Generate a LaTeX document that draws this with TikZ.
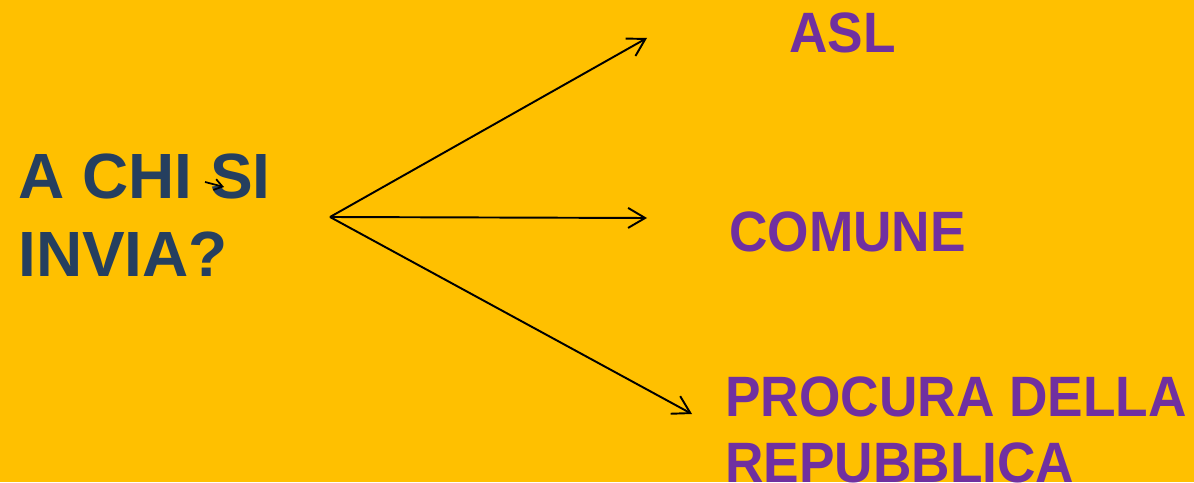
\documentclass[tikz,border=0pt]{standalone}
\usepackage{fontspec}
\setmainfont{Liberation Sans}
\usepackage{xcolor}
\usetikzlibrary{arrows.meta}
\definecolor{bgorange}{HTML}{FFC000}
\definecolor{askblue}{HTML}{253F5F}
\definecolor{destpurple}{HTML}{7030A0}

\begin{document}
\begin{tikzpicture}[
  ask/.style={anchor=base west,inner sep=0pt,align=left,text=askblue,
    font=\fontsize{36.4pt}{44.6pt}\selectfont\bfseries},
  dest/.style={anchor=base west,inner sep=0pt,align=left,text=destpurple,xscale=0.935,
    font=\fontsize{32.4pt}{37pt}\selectfont\bfseries},
  arr/.style={line width=1.1pt,-{Straight Barb[length=3.4mm,width=4mm,line width=1.1pt]}}]
\fill [bgorange] (0,0) rectangle (23.88,9.64);
\useasboundingbox (0,0) rectangle (23.88,9.64);
\node [ask] (q) at (0.36,4.10) {A CHI SI\\INVIA?};
\node [dest] (asl) at (15.78,8.58) {ASL};
\node [dest] (com) at (14.58,4.6) {COMUNE};
\node [dest] (proc) at (14.50,0.0) {PROCURA DELLA\\REPUBBLICA};
\coordinate (src) at (6.60,5.30);
\coordinate (toasl) at (12.94,8.88);
\coordinate (tocom) at (12.94,5.28);
\coordinate (toproc) at (13.84,1.36);
\draw [arr] (src) -- (toasl);
\draw [arr] (src) -- (tocom);
\draw [arr] (src) -- (toproc);
% stray little arrow on the S
\coordinate (sa) at (4.10,6.00);
\coordinate (sb) at (4.48,5.90);
\draw [line width=1pt,-{Straight Barb[length=1.6mm,width=2.2mm,line width=1pt]}] (sa) -- (sb);
\end{tikzpicture}
\end{document}
